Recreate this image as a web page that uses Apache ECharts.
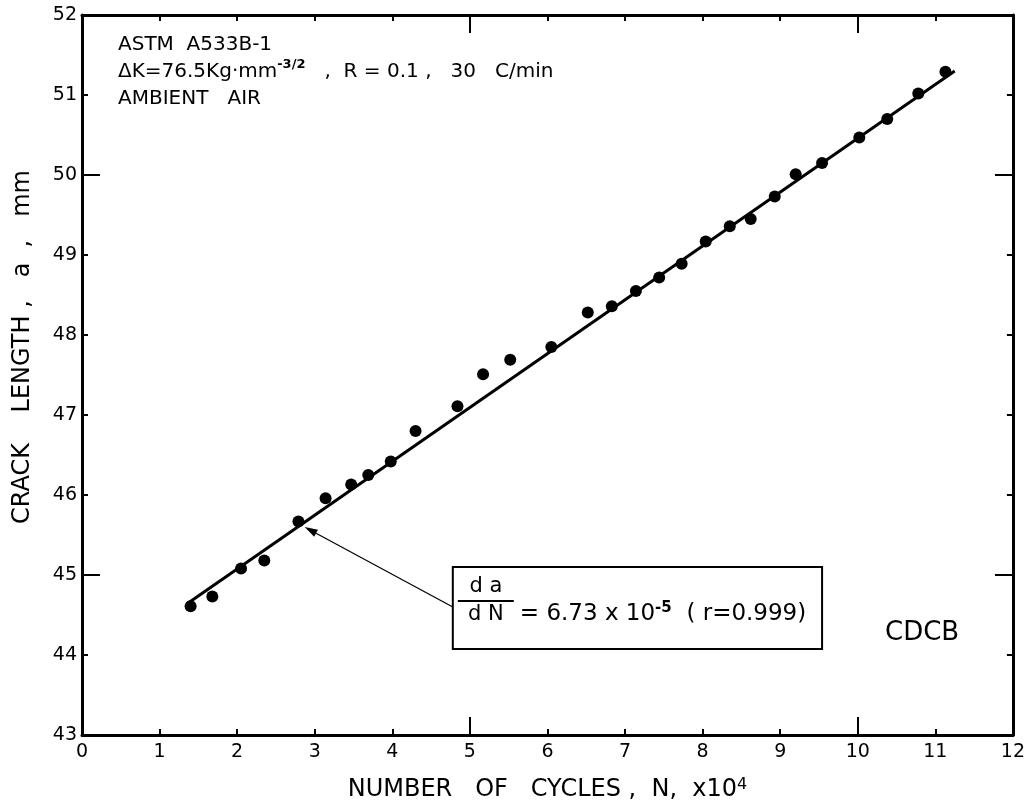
<!DOCTYPE html>
<html>
<head>
<meta charset="utf-8">
<script src="https://cdn.jsdelivr.net/npm/echarts@6/dist/echarts.min.js"></script>
<style>
  html, body { margin: 0; padding: 0; background: #fff; }
  #chart { width: 1028px; height: 807px; }
</style>
</head>
<body>
<div id="chart"></div>
<script>
// Fatigue crack growth record, ASTM A533B-1, CDCB specimen
// Number of cycles N (x10^4)
const cycles = [1.40, 1.68, 2.05, 2.35, 2.79, 3.14, 3.47, 3.69, 3.98, 4.30,
                4.84, 5.17, 5.52, 6.05, 6.52, 6.83, 7.14, 7.44, 7.73, 8.04,
                8.35, 8.62, 8.93, 9.20, 9.54, 10.02, 10.38, 10.78, 11.13];
// Crack length a (mm)
const crackLength = [44.61, 44.73, 45.08, 45.18, 45.67, 45.96, 46.13, 46.25, 46.42, 46.80,
                     47.11, 47.51, 47.69, 47.85, 48.28, 48.36, 48.55, 48.72, 48.89, 49.17,
                     49.36, 49.45, 49.73, 50.01, 50.15, 50.47, 50.70, 51.02, 51.29];

// Least-squares fit: da/dN = 6.73e-5 mm/cycle, r = 0.999
const fitRate = 6.73e-5;        // mm per cycle
const fitIntercept = 43.728;    // a at N = 0, mm
const fitSpan = [1.35, 11.25];  // N range of the fitted line (x10^4)

// Axis ranges and the longer ticks at multiples of five
const xRange = [0, 12];
const yRange = [43, 52];
const xLongTicks = [5, 10];
const yLongTicks = [45, 50];

const FONT = 'DejaVu Sans';
const INK = '#000';

const fitLine = fitSpan.map(n => [n, fitIntercept + fitRate * 1e4 * n]);
const points = cycles.map((n, i) => [n, crackLength[i]]);

function axis(kind, position, primary) {
  const range = kind === 'x' ? xRange : yRange;
  const ax = {
    type: 'value',
    position: position,
    min: range[0],
    max: range[1],
    splitLine: { show: false },
    axisLine: { show: primary, onZero: false, lineStyle: { color: INK, width: 3 } },
    axisLabel: { show: false },
    axisTick: { show: true, inside: true, length: 6, lineStyle: { color: INK, width: 2 } }
  };
  if (primary) {
    ax.interval = 1;
  } else {
    ax.axisTick = {
      show: true, inside: true, length: 18,
      customValues: kind === 'x' ? xLongTicks : yLongTicks,
      lineStyle: { color: INK, width: 2 }
    };
  }
  return ax;
}

const xBottom = axis('x', 'bottom', true);
xBottom.axisLabel = { show: true, color: INK, fontSize: 19, fontFamily: FONT, margin: 8 };
xBottom.name = 'NUMBER   OF   CYCLES ,  N,  x10{sup|4}';
xBottom.nameLocation = 'middle';
xBottom.nameGap = 42;
xBottom.nameTextStyle = {
  color: INK, fontSize: 24, fontFamily: FONT,
  rich: { sup: { fontSize: 16, fontFamily: FONT, color: INK, verticalAlign: 'top', padding: [0, 0, 10, 0] } }
};

const yLeft = axis('y', 'left', true);
yLeft.axisLabel = { show: true, color: INK, fontSize: 19, fontFamily: FONT, margin: 5 };
yLeft.name = 'CRACK    LENGTH ,   a  ,   mm';
yLeft.nameLocation = 'middle';
yLeft.nameGap = 47;
yLeft.nameTextStyle = { color: INK, fontSize: 24, fontFamily: FONT, padding: [0, 0, 0, 56] };

const option = {
  backgroundColor: '#fff',
  animation: false,
  grid: { left: 82, right: 15, top: 15, bottom: 72, containLabel: false },
  xAxis: [
    xBottom,
    axis('x', 'bottom', false),
    axis('x', 'top', true),
    axis('x', 'top', false)
  ],
  yAxis: [
    yLeft,
    axis('y', 'left', false),
    axis('y', 'right', true),
    axis('y', 'right', false)
  ],
  series: [
    {
      type: 'line',
      xAxisIndex: 0, yAxisIndex: 0,
      data: fitLine,
      showSymbol: false,
      lineStyle: { color: INK, width: 3 },
      z: 2
    },
    {
      type: 'scatter',
      xAxisIndex: 0, yAxisIndex: 0,
      data: points,
      symbol: 'circle',
      symbolSize: 12,
      itemStyle: { color: INK, opacity: 1 },
      z: 3
    }
  ]
};

const chart = echarts.init(document.getElementById('chart'), null, { renderer: 'canvas' });
chart.setOption(option);

// Annotations anchored to the data grid
const toPx = p => chart.convertToPixel({ gridIndex: 0 }, p);
const boxTL = toPx([4.78, 45.10]);
const boxBR = toPx([9.54, 44.075]);
const arrowTail = toPx([4.78, 44.60]);
const arrowHead = toPx([2.87, 45.60]);

const ang = Math.atan2(arrowHead[1] - arrowTail[1], arrowHead[0] - arrowTail[0]);
const headLen = 13, headHalf = 4;
const hb = [arrowHead[0] - headLen * Math.cos(ang), arrowHead[1] - headLen * Math.sin(ang)];
const headPts = [
  arrowHead,
  [hb[0] + headHalf * Math.sin(ang), hb[1] - headHalf * Math.cos(ang)],
  [hb[0] - headHalf * Math.sin(ang), hb[1] + headHalf * Math.cos(ang)]
];

const bx = boxTL[0], by = boxTL[1];
const bw = boxBR[0] - boxTL[0], bh = boxBR[1] - boxTL[1];

const textBase = { fill: INK, fontFamily: FONT };

chart.setOption({
  graphic: [
    // specimen / test condition notes
    {
      type: 'text', left: 118, top: 31,
      style: Object.assign({}, textBase, {
        text: 'ASTM  A533B-1\nΔK=76.5Kg·mm{sup|-3/2}   ,  R = 0.1 ,   30   C/min\nAMBIENT   AIR',
        fontSize: 20, lineHeight: 27,
        rich: { sup: { fontSize: 13, fontFamily: FONT, fill: INK, fontWeight: 'bold', verticalAlign: 'top', padding: [0, 0, 9, 0] } }
      })
    },
    {
      type: 'text', left: 885, top: 620,
      style: Object.assign({}, textBase, { text: 'CDCB', fontSize: 26 })
    },
    // leader arrow from the equation box to the fitted line
    {
      type: 'line',
      shape: { x1: arrowTail[0], y1: arrowTail[1], x2: hb[0], y2: hb[1] },
      style: { stroke: INK, lineWidth: 1.2 }
    },
    {
      type: 'polygon',
      shape: { points: headPts },
      style: { fill: INK }
    },
    // equation box
    {
      type: 'rect',
      shape: { x: bx, y: by, width: bw, height: bh },
      style: { fill: '#fff', stroke: INK, lineWidth: 2 }
    },
    {
      type: 'text', x: bx + 33, y: by + 20,
      style: Object.assign({}, textBase, { text: 'd a', fontSize: 21, align: 'center', verticalAlign: 'middle' })
    },
    {
      type: 'line',
      shape: { x1: bx + 5, y1: by + 34, x2: bx + 61, y2: by + 34 },
      style: { stroke: INK, lineWidth: 2 }
    },
    {
      type: 'text', x: bx + 33, y: by + 48,
      style: Object.assign({}, textBase, { text: 'd N', fontSize: 21, align: 'center', verticalAlign: 'middle' })
    },
    {
      type: 'text', x: bx + 67, y: by + 47,
      style: Object.assign({}, textBase, {
        text: '= 6.73 x 10{sup|-5}  ( r=0.999)',
        fontSize: 23, verticalAlign: 'middle',
        rich: { sup: { fontSize: 15, fontFamily: FONT, fill: INK, fontWeight: 'bold', verticalAlign: 'top', padding: [0, 0, 12, 0] } }
      })
    }
  ]
});
</script>
</body>
</html>
